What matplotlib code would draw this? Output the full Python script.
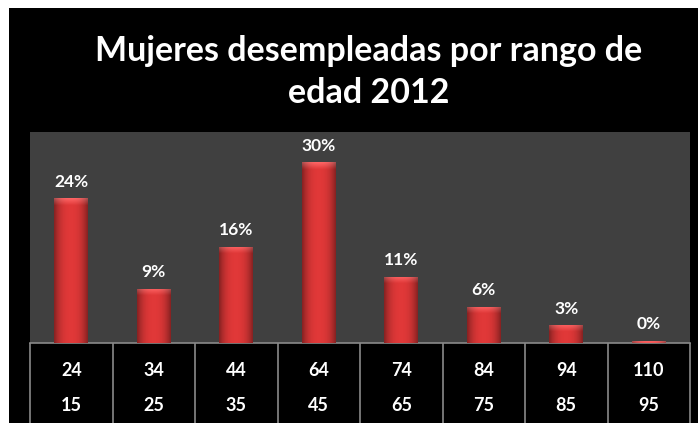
import numpy as np
import matplotlib
matplotlib.use("Agg")
import matplotlib.pyplot as plt
from matplotlib.patches import Rectangle

# ---- data ----
title = "Mujeres desempleadas por rango de\nedad 2012"
upper_age = ["24", "34", "44", "64", "74", "84", "94", "110"]
lower_age = ["15", "25", "35", "45", "65", "75", "85", "95"]
percent = [24, 9, 16, 30, 11, 6, 3, 0.4]

plt.rcParams['font.family'] = ['Lato', 'DejaVu Sans']

W, H = 699, 423
fig = plt.figure(figsize=(W / 100, H / 100), dpi=100)
fig.patch.set_facecolor('white')
# black chart background with a thin white margin at top/left
fig.add_artist(Rectangle((9 / W, 0), (698 - 9) / W, (H - 8) / H,
                         transform=fig.transFigure, facecolor='black',
                         edgecolor='none', zorder=0))

left, right, top, bottom = 30, 690, 132, 343
ax = fig.add_axes([left / W, (H - bottom) / H, (right - left) / W, (bottom - top) / H])
ax.set_facecolor('#404040')
for s in ax.spines.values():
    s.set_visible(False)
ax.spines['bottom'].set_visible(True)
ax.spines['bottom'].set_color('#8a8a8a')
ax.spines['bottom'].set_linewidth(1.2)

x = np.arange(len(percent))
ax.set_xlim(-0.5, len(percent) - 0.5)
ax.set_ylim(0, 35)
ax.set_xticks([])
ax.set_yticks([])

bars = ax.bar(x, percent, width=0.41, color='#cc2f2f', edgecolor='none', zorder=2)

# cylinder-like shading for each bar
nx, ny = 60, 300
hx = np.linspace(-1, 1, nx)
prof = 1 - 0.4 * np.abs(hx) ** 2.5
base = np.array([0.88, 0.22, 0.22])
px_per_unit = (bottom - top) / 35.0
for b in bars:
    h = b.get_height()
    x0 = b.get_x()
    w = b.get_width()
    hpx = max(h * px_per_unit, 1e-6)
    dist = np.linspace(0, hpx, ny)  # px distance from top
    glow = np.clip(1 - dist / 7.0, 0, 1)
    arr = base[None, None, :] * prof[None, :, None] * np.ones((ny, 1, 1))
    arr = arr + glow[:, None, None] * np.array([0.12, 0.18, 0.18])[None, None, :]
    arr = np.clip(arr, 0, 1)
    im = ax.imshow(arr, extent=[x0, x0 + w, 0, h], aspect='auto',
                   origin='upper', zorder=3, interpolation='bilinear')
    im.set_clip_path(b)

ax.set_xlim(-0.5, len(percent) - 0.5)
ax.set_ylim(0, 35)

for xi, v in zip(x, percent):
    ax.annotate(f"{round(v):d}%", (xi, v), xytext=(0, 6), textcoords='offset points',
                ha='center', va='bottom', color='white', fontsize=12.5,
                fontweight='bold', zorder=5)

# category table below axis
tr = ax.get_xaxis_transform()
tab_h = (H - bottom) / (bottom - top)
ax.vlines(np.arange(len(percent) + 1) - 0.5, -tab_h, 0, transform=tr,
          colors='#8a8a8a', linewidth=1.2, clip_on=False)
y1 = -(370 - bottom) / (bottom - top)
y2 = -(405 - bottom) / (bottom - top)
for xi, a, b in zip(x, upper_age, lower_age):
    ax.text(xi, y1, a, transform=tr, ha='center', va='center', color='white',
            fontsize=13, fontweight='bold')
    ax.text(xi, y2, b, transform=tr, ha='center', va='center', color='white',
            fontsize=13, fontweight='bold')

fig.text(369 / W, 1 - 72 / H, title, ha='center', va='center', color='white',
         fontsize=24.5, fontweight='bold', linespacing=1.35)

fig.savefig('out.png', dpi=100, facecolor=fig.get_facecolor())
